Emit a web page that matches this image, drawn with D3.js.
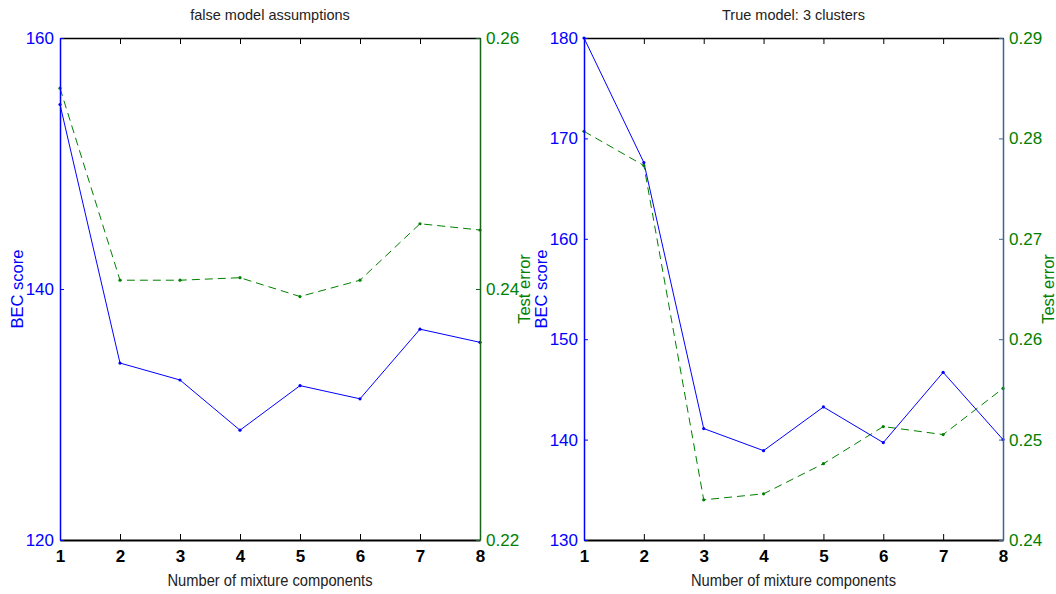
<!DOCTYPE html>
<html>
<head>
<meta charset="utf-8">
<script src="https://cdn.jsdelivr.net/npm/d3@7"></script>
<style>
  html, body { margin: 0; padding: 0; background: #fff; }
  svg { display: block; }
  .narrow { font-family: 'Liberation Sans Narrow', 'Arial Narrow', 'Liberation Sans', sans-serif; }
  .wide { font-family: 'Liberation Sans', Arial, sans-serif; }
</style>
</head>
<body>
<svg id="chart" width="1056" height="594"></svg>
<script>
// ---- data ----
const categories = [1, 2, 3, 4, 5, 6, 7, 8];

const leftTitle = "false model assumptions";
const leftBEC = [154.7, 134.1, 132.75, 128.75, 132.3, 131.25, 136.8, 135.75];
const leftErr = [0.2560, 0.2407, 0.2407, 0.2409, 0.2394, 0.2407, 0.2452, 0.2447];
const leftBECTicks = [120, 140, 160];
const leftErrTicks = [0.22, 0.24, 0.26];

const rightTitle = "True model: 3 clusters";
const rightBEC = [180.0, 167.6, 141.1, 138.9, 143.25, 139.7, 146.7, 140.0];
const rightErr = [0.2807, 0.2773, 0.2440, 0.2446, 0.2476, 0.2513, 0.2505, 0.2551];
const rightBECTicks = [130, 140, 150, 160, 170, 180];
const rightErrTicks = [0.24, 0.25, 0.26, 0.27, 0.28, 0.29];

const xLabel = "Number of mixture components";
const leftYLabel = "BEC score";
const rightYLabel = "Test error";

// ---- drawing ----
const svg = d3.select("#chart");
const BLUE = "#0000ff";
const GREEN = "#008000";

function panel(cfg) {
  const { x0, x1, y0, y1 } = cfg;
  const g = svg.append("g");
  const x = d3.scaleLinear().domain([1, 8]).range([x0, x1]);
  const yL = d3.scaleLinear().domain(d3.extent(cfg.becTicks)).range([y1, y0]);
  const yR = d3.scaleLinear().domain(d3.extent(cfg.errTicks)).range([y1, y0]);

  // series
  const lineB = d3.line().x((d, i) => x(categories[i])).y(d => yL(d));
  const lineG = d3.line().x((d, i) => x(categories[i])).y(d => yR(d));
  g.append("path").attr("d", lineG(cfg.err)).attr("fill", "none")
    .attr("stroke", GREEN).attr("stroke-width", 1).attr("stroke-dasharray", "8,5");
  g.append("path").attr("d", lineB(cfg.bec)).attr("fill", "none")
    .attr("stroke", BLUE).attr("stroke-width", 1);
  g.selectAll(".mg").data(cfg.err).enter().append("circle")
    .attr("cx", (d, i) => x(categories[i])).attr("cy", d => yR(d)).attr("r", 1.6).attr("fill", GREEN);
  g.selectAll(".mb").data(cfg.bec).enter().append("circle")
    .attr("cx", (d, i) => x(categories[i])).attr("cy", d => yL(d)).attr("r", 1.6).attr("fill", BLUE);

  // top axis
  const top = g.append("g").attr("transform", `translate(0,${y0})`)
    .call(d3.axisTop(x).tickValues(categories).tickSizeInner(-6).tickSizeOuter(0).tickFormat(""));
  top.select(".domain").attr("stroke", "#000").attr("stroke-width", 1.5);
  top.selectAll(".tick line").attr("stroke", "#000");

  // bottom axis
  const bot = g.append("g").attr("transform", `translate(0,${y1})`)
    .call(d3.axisBottom(x).tickValues(categories).tickSizeInner(-6).tickSizeOuter(0).tickPadding(10).tickFormat(d3.format("d")));
  bot.select(".domain").attr("stroke", "#000").attr("stroke-width", 2);
  bot.selectAll(".tick line").attr("stroke", "#000");
  bot.selectAll(".tick text").attr("class", "narrow").attr("font-size", 17)
    .attr("font-weight", "bold").attr("fill", "#000");

  // left axis
  const la = g.append("g").attr("transform", `translate(${x0},0)`)
    .call(d3.axisLeft(yL).tickValues(cfg.becTicks).tickSizeInner(-4).tickSizeOuter(0).tickPadding(6).tickFormat(d3.format("d")));
  la.select(".domain").attr("stroke", BLUE).attr("stroke-width", 1.5);
  la.selectAll(".tick line").attr("stroke", BLUE);
  la.selectAll(".tick text").attr("class", "narrow").attr("font-size", 17).attr("fill", BLUE);

  // right axis
  const ra = g.append("g").attr("transform", `translate(${x1},0)`)
    .call(d3.axisRight(yR).tickValues(cfg.errTicks).tickSizeInner(-4).tickSizeOuter(0).tickPadding(6).tickFormat(d3.format(".2f")));
  ra.select(".domain").attr("stroke", cfg.rightAxisColor).attr("stroke-width", 1.5);
  ra.selectAll(".tick line").attr("stroke", cfg.rightAxisColor);
  ra.selectAll(".tick text").attr("class", "narrow").attr("font-size", 17).attr("fill", GREEN);

  // titles
  g.append("text").attr("class", "narrow").attr("x", (x0 + x1) / 2).attr("y", 20)
    .attr("text-anchor", "middle").attr("font-size", 14.5).attr("fill", "#222").text(cfg.title);
  g.append("text").attr("class", "narrow").attr("x", (x0 + x1) / 2).attr("y", 586)
    .attr("text-anchor", "middle").attr("font-size", 16).attr("fill", "#222")
    .attr("textLength", 205).attr("lengthAdjust", "spacingAndGlyphs").text(xLabel);

  g.append("text").attr("class", "wide")
    .attr("transform", `translate(${cfg.lLabelX},${(y0 + y1) / 2}) rotate(-90)`)
    .attr("text-anchor", "middle").attr("font-size", 16.5).attr("fill", BLUE).text(leftYLabel);
  g.append("text").attr("class", "wide")
    .attr("transform", `translate(${cfg.rLabelX},${(y0 + y1) / 2}) rotate(-90)`)
    .attr("text-anchor", "middle").attr("font-size", 16.5).attr("fill", GREEN).text(rightYLabel);
}

panel({ x0: 60, x1: 480, y0: 38, y1: 540, bec: leftBEC, err: leftErr,
        becTicks: leftBECTicks, errTicks: leftErrTicks, title: leftTitle,
        rightAxisColor: "#1a631a", lLabelX: 23, rLabelX: 530 });
panel({ x0: 584, x1: 1003, y0: 38, y1: 540, bec: rightBEC, err: rightErr,
        becTicks: rightBECTicks, errTicks: rightErrTicks, title: rightTitle,
        rightAxisColor: "#3d6494", lLabelX: 547, rLabelX: 1054 });
</script>
</body>
</html>
